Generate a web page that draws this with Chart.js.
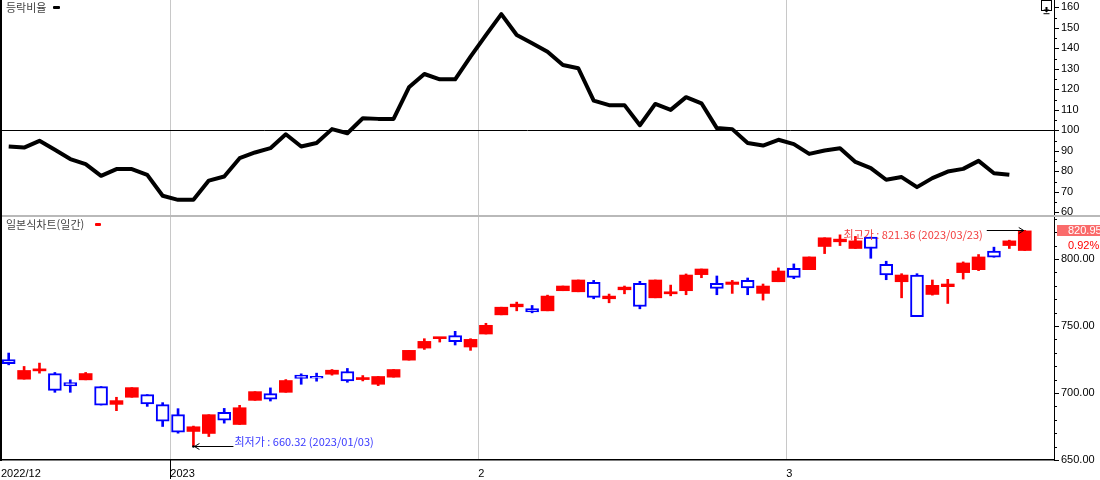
<!DOCTYPE html>
<html lang="ko"><head><meta charset="utf-8"><title>등락비율 / 일본식차트(일간)</title>
<script src="https://cdn.jsdelivr.net/npm/chart.js@4.4.1/dist/chart.umd.min.js"></script>
<style>
html,body{margin:0;padding:0;background:#fff;overflow:hidden;}
#wrap{position:relative;width:1100px;height:480px;background:#fff;}
canvas{position:absolute;left:0;display:block;}
#cTop{top:0;}
#cBot{top:217px;}
#sep{position:absolute;left:0;top:215px;width:1100px;height:2px;background:#b9b9b9;}
#lb{position:absolute;left:0;top:0;width:2px;height:461px;background:#000;}
.leg{position:absolute;left:6px;font:11px/14px "Noto Sans CJK KR",sans-serif;color:#444;white-space:nowrap;}
.mk{position:absolute;height:3px;border-radius:1px;}
#icon{position:absolute;left:1041px;top:0;width:9px;height:9px;border:1px solid #000;background:#fff;}
</style></head>
<body>
<div id="wrap">
  <canvas id="cTop" width="1100" height="215"></canvas>
  <div id="sep"></div>
  <canvas id="cBot" width="1100" height="263"></canvas>
  <div id="lb"></div>
  <div class="leg" style="top:0px;">등락비율</div>
  <div class="mk" style="left:53px;top:6px;width:7px;background:#000;"></div>
  <div class="leg" style="top:217px;">일본식차트(일간)</div>
  <div class="mk" style="left:95px;top:223px;width:6px;background:#ff0000;"></div>
  <div id="icon"><svg width="9" height="9" viewBox="0 0 9 9"><path d="M4.5 6.5 L1.5 3.5 L3.5 3.5 L3.5 1 L5.5 1 L5.5 3.5 L7.5 3.5 Z" fill="#000"/><rect x="1.5" y="7.2" width="6" height="1" fill="#000"/></svg></div>
</div>
<script>
// ---- data ----
const dates = [
  '2022/12/15','2022/12/16','2022/12/19','2022/12/20','2022/12/21','2022/12/22','2022/12/23','2022/12/26','2022/12/27','2022/12/28','2022/12/29',
  '2023/01/02','2023/01/03','2023/01/04','2023/01/05','2023/01/06','2023/01/09','2023/01/10','2023/01/11','2023/01/12','2023/01/13',
  '2023/01/16','2023/01/17','2023/01/18','2023/01/19','2023/01/20','2023/01/25','2023/01/26','2023/01/27','2023/01/30','2023/01/31',
  '2023/02/01','2023/02/02','2023/02/03','2023/02/06','2023/02/07','2023/02/08','2023/02/09','2023/02/10','2023/02/13','2023/02/14',
  '2023/02/15','2023/02/16','2023/02/17','2023/02/20','2023/02/21','2023/02/22','2023/02/23','2023/02/24','2023/02/27','2023/02/28',
  '2023/03/02','2023/03/03','2023/03/06','2023/03/07','2023/03/08','2023/03/09','2023/03/10','2023/03/13','2023/03/14','2023/03/15',
  '2023/03/16','2023/03/17','2023/03/20','2023/03/21','2023/03/22','2023/03/23'
];
const opens = [725.0,710.3,716.5,714.5,707.8,709.8,704.8,691.5,696.8,698.8,691.3,
  683.8,671.3,669.8,685.5,676.5,694.5,699.5,700.5,713.3,711.5,
  714.0,716.0,710.0,706.5,711.8,724.5,733.5,740.5,742.8,734.3,
  744.0,758.3,764.3,763.0,761.3,776.3,775.5,782.5,770.3,777.0,
  781.8,771.0,774.0,776.3,788.3,781.8,781.0,784.0,774.3,783.0,
  793.0,792.0,809.3,812.8,807.8,816.3,796.0,783.0,788.0,773.5,
  779.3,789.8,792.0,805.8,810.0,806.3];
const highs = [729.8,719.8,722.3,715.3,709.8,715.3,704.8,696.8,704.0,698.8,692.8,
  688.3,675.3,683.8,688.5,690.8,701.0,703.8,710.0,714.3,714.8,
  717.5,718.3,713.0,712.3,717.5,731.8,740.5,741.5,746.0,740.5,
  752.0,764.0,767.8,765.3,773.0,779.8,784.3,784.0,773.8,779.8,
  783.3,784.3,780.5,788.8,792.5,787.3,784.0,785.8,781.3,793.3,
  796.3,801.5,815.8,818.0,816.8,816.3,798.3,789.0,789.0,784.3,
  784.8,797.8,803.3,808.8,814.0,821.36];
const lows = [721.0,710.3,714.8,700.5,700.5,709.8,691.0,686.8,696.8,690.0,675.0,
  670.0,660.32,667.5,677.5,676.5,694.5,694.0,700.5,706.5,708.8,
  713.3,708.0,709.0,705.5,711.8,724.5,732.5,738.0,735.8,731.8,
  744.0,758.3,761.3,759.8,761.3,776.3,775.5,770.3,767.3,774.0,
  762.8,771.0,772.5,773.3,786.0,773.3,774.3,773.3,769.3,783.0,
  785.3,792.0,804.0,810.0,807.8,800.5,784.5,771.0,757.0,773.0,
  766.8,785.0,791.3,801.3,807.8,806.3];
const closes = [721.8,716.8,717.0,702.0,705.3,714.5,691.0,694.3,704.0,691.8,679.0,
  670.8,674.8,683.8,679.8,689.0,701.0,695.3,709.3,710.8,711.0,
  717.0,709.0,711.5,712.3,717.5,731.8,738.5,741.0,738.3,740.0,
  750.5,764.0,766.3,760.5,772.3,779.8,784.3,771.3,772.3,779.0,
  764.5,784.3,775.5,788.0,792.5,778.0,782.8,778.3,779.8,791.0,
  786.3,801.5,815.8,814.8,813.5,807.8,788.0,788.0,757.0,780.3,
  781.3,797.0,801.5,801.3,813.5,820.95];
const ratio = [92.1,91.6,94.9,90.5,86.0,83.5,77.8,81.1,81.1,78.3,
  68.1,66.1,66.1,75.5,77.5,86.4,89.2,91.3,98.1,92.1,
  93.8,100.6,98.6,105.9,105.6,105.6,121.0,127.5,124.9,124.9,
  136.0,146.5,156.7,146.5,142.5,138.4,131.9,130.3,114.5,112.3,
  112.3,102.5,112.9,110.0,116.2,113.2,101.1,100.6,93.8,92.6,
  95.4,93.3,88.5,90.2,91.3,84.6,81.6,75.9,77.2,72.3,
  76.7,79.9,81.2,85.1,79.1,78.3,null];
const ratioTicks = [60,70,80,90,100,110,120,130,140,150,160];
const ratioBase = 100;
const priceTicks = [650,700,750,800];
const monthTickIdx = [0,11,31,51];
const monthTickLabels = ['2022/12','2023','2','3'];

// ---- helpers ----
const RED = '#ff0000', BLUE = '#0000ff';
const up = closes.map((c,i)=> c >= opens[i]);
const hiIdx = highs.indexOf(Math.max(...highs));
const loIdx = lows.indexOf(Math.min(...lows));
const lastIdx = closes.length - 1;
const pct = (closes[lastIdx] - closes[lastIdx-1]) / closes[lastIdx-1] * 100;
const TICKFONT = {family:'"Liberation Sans", Arial, sans-serif', size:11};
const CJK = '"Noto Sans CJK KR", sans-serif';

const commonX = (h, showLabels) => ({
  type:'linear', min:-0.5, max:67.9, bounds:'data', offset:false,
  afterBuildTicks: s => { s.ticks = monthTickIdx.map(i => ({value: i - 0.5})); },
  afterFit: s => { s.height = h; s.paddingLeft = 0; s.paddingRight = 0; },
  grid: { offset:false, drawTicks:false, lineWidth:1, color: c => (c.tick && c.tick.value > 0) ? '#c8c8c8' : 'rgba(0,0,0,0)' },
  border: { display: showLabels, color:'#000', width:1.5 },
  ticks: { display: showLabels, align:'start', padding:7, color:'#000', font:TICKFONT, maxRotation:0, autoSkip:false,
           callback: (v, i) => monthTickLabels[i] }
});

const tickMarks = {
  id:'tickMarks',
  afterDraw(chart, args, o){
    const s = chart.scales.y, ctx = chart.ctx, x0 = chart.chartArea.right;
    ctx.save(); ctx.strokeStyle = '#000'; ctx.lineWidth = 1;
    for (let v = o.from; v <= o.to + 1e-9; v += o.minor) {
      const y = Math.round(s.getPixelForValue(v)) + 0.5;
      const r = v / o.major, major = Math.abs(r - Math.round(r)) < 1e-6;
      ctx.beginPath(); ctx.moveTo(x0, y); ctx.lineTo(x0 + (major ? 5 : 3), y); ctx.stroke();
    }
    ctx.restore();
  }
};

// ---- top chart: 등락비율 ----
new Chart(document.getElementById('cTop'), {
  type:'line',
  data:{ datasets:[{ label:'등락비율', data: ratio.map((v,i)=>({x:i, y:v})), borderColor:'#000', borderWidth:4,
    pointRadius:0, tension:0, spanGaps:false, fill:false, borderJoinStyle:'round' }]},
  options:{
    responsive:false, animation:false, devicePixelRatio:1,
    layout:{ padding:{left:1, right:0, top:0, bottom:0} },
    plugins:{ legend:{display:false}, tooltip:{enabled:false},
      tickMarks:{ from:60, to:160, minor:5, major:10 } },
    scales:{
      x: commonX(0, false),
      y: { position:'right', min:58.7, max:163.6, bounds:'data',
        afterBuildTicks: s => { s.ticks = ratioTicks.map(v => ({value:v})); },
        afterFit: s => { s.width = 46; s.paddingTop = 0; s.paddingBottom = 0; },
        grid:{ drawTicks:false, lineWidth:1, color: c => (c.tick && c.tick.value === ratioBase) ? '#000' : 'rgba(0,0,0,0)' },
        border:{ display:true, color:'#000', width:1 },
        ticks:{ padding:7, color:'#000', font:TICKFONT, autoSkip:false, callback: v => String(v) } }
    }
  },
  plugins:[tickMarks]
});

// ---- bottom chart: 일본식차트(일간) ----
const notes = {
  id:'notes',
  afterDatasetsDraw(chart){
    const {ctx, scales:{x, y}} = chart;
    ctx.save();
    ctx.font = '11px ' + CJK;
    ctx.lineWidth = 1; ctx.strokeStyle = '#000'; ctx.fillStyle = '#000';
    // highest
    const hx = x.getPixelForValue(hiIdx), hy = Math.round(y.getPixelForValue(highs[hiIdx])) + 0.5;
    ctx.beginPath(); ctx.moveTo(hx - 38, hy); ctx.lineTo(hx - 1, hy); ctx.stroke();
    ctx.beginPath(); ctx.moveTo(hx - 6, hy - 3); ctx.lineTo(hx - 1, hy); ctx.lineTo(hx - 6, hy + 3); ctx.stroke();
    ctx.fillStyle = '#f23c3c'; ctx.textAlign = 'right'; ctx.textBaseline = 'middle';
    ctx.fillText('최고가 : ' + highs[hiIdx].toFixed(2) + ' (' + dates[hiIdx] + ')', hx - 42, hy + 4);
    // lowest
    const lx = x.getPixelForValue(loIdx), ly = Math.round(y.getPixelForValue(lows[loIdx])) + 0.5;
    ctx.strokeStyle = '#000'; ctx.fillStyle = '#000';
    ctx.beginPath(); ctx.moveTo(lx + 1, ly); ctx.lineTo(lx + 40, ly); ctx.stroke();
    ctx.beginPath(); ctx.moveTo(lx + 6, ly - 3); ctx.lineTo(lx + 1, ly); ctx.lineTo(lx + 6, ly + 3); ctx.stroke();
    ctx.beginPath(); ctx.arc(lx, ly, 1.3, 0, Math.PI * 2); ctx.fill();
    ctx.fillStyle = '#3a3aff'; ctx.textAlign = 'left'; ctx.textBaseline = 'middle';
    ctx.fillText('최저가 : ' + lows[loIdx].toFixed(2) + ' (' + dates[loIdx] + ')', lx + 41, ly - 5);
    ctx.restore();
  },
  afterDraw(chart){
    const {ctx, scales:{x, y}, chartArea} = chart;
    ctx.save();
    // year boundary tick below the axis
    const yx = Math.round(x.getPixelForValue(monthTickIdx[1] - 0.5)) + 0.5;
    ctx.strokeStyle = '#000'; ctx.lineWidth = 1;
    ctx.beginPath(); ctx.moveTo(yx, chartArea.bottom); ctx.lineTo(yx, chartArea.bottom + 19); ctx.stroke();
    // current price badge
    const by = y.getPixelForValue(closes[lastIdx]);
    ctx.fillStyle = '#fa6b6b';
    ctx.fillRect(chartArea.right + 3, Math.round(by) - 6, 60, 11);
    ctx.font = '11px "Liberation Sans", Arial, sans-serif';
    ctx.textBaseline = 'middle'; ctx.textAlign = 'left';
    ctx.fillStyle = '#ffffff';
    ctx.fillText(closes[lastIdx].toFixed(2), chartArea.right + 14, Math.round(by));
    ctx.fillStyle = '#ff0000';
    ctx.fillText(pct.toFixed(2) + '%', chartArea.right + 14, Math.round(by) + 15);
    ctx.restore();
  }
};

new Chart(document.getElementById('cBot'), {
  type:'bar',
  data:{ datasets:[
    { label:'wick', data: dates.map((d,i)=>({x:i, y:[lows[i], highs[i]]})),
      backgroundColor: up.map(u => u ? RED : BLUE), borderWidth:0, barThickness:2, grouped:false, order:2 },
    { label:'일본식차트(일간)', data: dates.map((d,i)=>({x:i, y:[opens[i], closes[i]]})),
      backgroundColor: up.map(u => u ? RED : '#ffffff'), borderColor: up.map(u => u ? RED : BLUE),
      borderWidth: up.map(u => u ? 0 : 2), borderSkipped:false, barThickness:13, minBarLength:2, grouped:false, order:1 }
  ]},
  options:{
    responsive:false, animation:false, devicePixelRatio:1,
    layout:{ padding:{left:1, right:0, top:0, bottom:0} },
    plugins:{ legend:{display:false}, tooltip:{enabled:false},
      tickMarks:{ from:650, to:830, minor:10, major:50 } },
    scales:{
      x: commonX(20, true),
      y: { position:'right', min:650, max:831.3, bounds:'data',
        afterBuildTicks: s => { s.ticks = priceTicks.map(v => ({value:v})); },
        afterFit: s => { s.width = 46; s.paddingTop = 0; s.paddingBottom = 0; },
        grid:{ drawTicks:false, color:'rgba(0,0,0,0)' },
        border:{ display:true, color:'#000', width:1 },
        ticks:{ padding:7, color:'#000', font:TICKFONT, autoSkip:false, callback: v => Number(v).toFixed(2) } }
    }
  },
  plugins:[tickMarks, notes]
});
</script>
</body></html>
